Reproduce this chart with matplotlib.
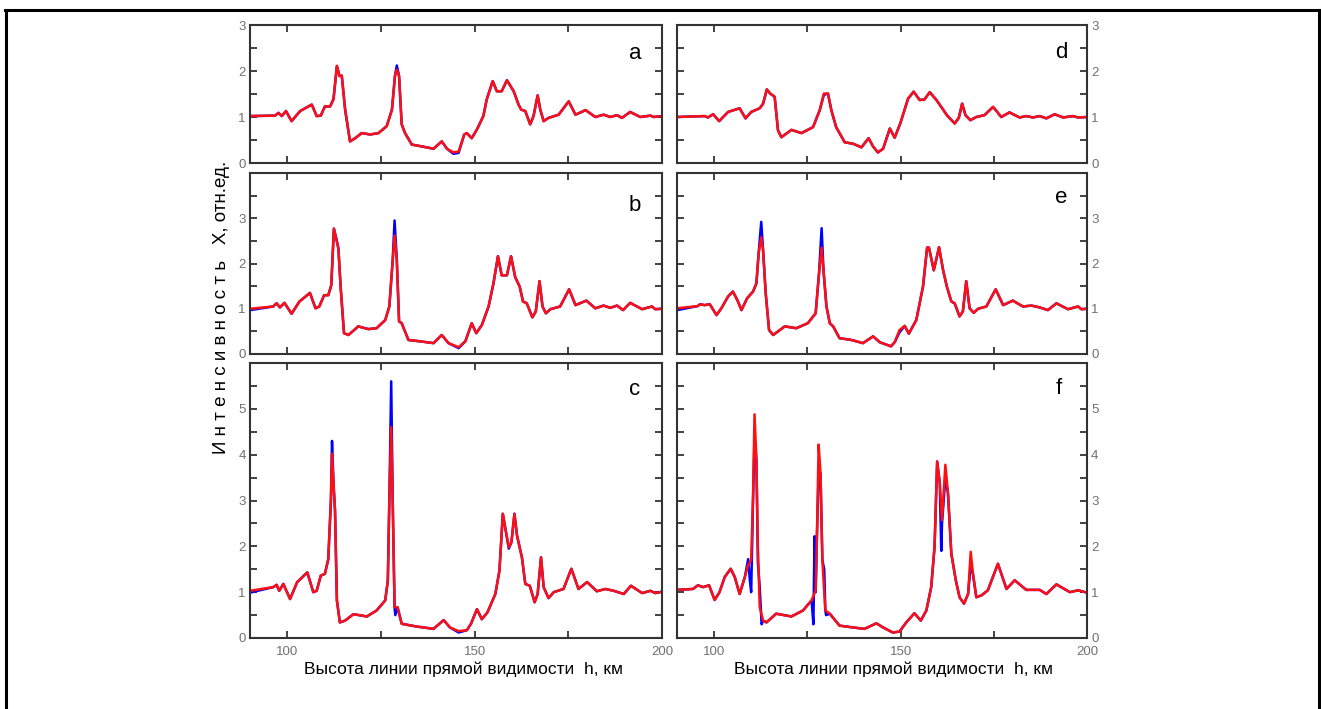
import matplotlib
matplotlib.use("Agg")
import matplotlib.pyplot as plt
from matplotlib.lines import Line2D
from matplotlib.ticker import MultipleLocator, FuncFormatter

plt.rcParams['font.family'] = ['Liberation Sans', 'DejaVu Sans']

# ---- data (red curve of every panel) ----
a_x = [90, 96.7, 97.6, 98.5, 99.6, 101.1, 103.4, 106.5, 107.8, 108.9, 110.0, 111.4, 112.3, 113.2,
       113.9, 114.5, 115.4, 116.7, 118.1, 119.8, 122.1, 124.3, 126.5, 127.9, 128.7, 129.2, 129.8,
       130.5, 131.4, 133.2, 135.9, 139.0, 141.2, 142.6, 144.3, 145.7, 147.2, 147.9, 149.2, 150.6,
       152.3, 153.2, 154.8, 155.9, 157.2, 158.6, 160.4, 161.7, 162.4, 163.5, 164.8, 165.7, 166.8,
       167.5, 168.4, 169.7, 172.4, 175.1, 176.9, 179.6, 182.2, 184.4, 186.2, 188.0, 189.3, 191.5,
       194.2, 196.9, 197.8, 200]
a_y = [1.02, 1.03, 1.09, 1.02, 1.13, 0.91, 1.13, 1.27, 1.02, 1.03, 1.23, 1.23, 1.39, 2.11,
       1.89, 1.90, 1.16, 0.47, 0.54, 0.65, 0.62, 0.65, 0.80, 1.16, 1.89, 2.03, 1.89,
       0.84, 0.65, 0.40, 0.36, 0.31, 0.47, 0.31, 0.23, 0.25, 0.62, 0.65, 0.54, 0.73,
       1.02, 1.38, 1.78, 1.56, 1.56, 1.80, 1.56, 1.27, 1.16, 1.13, 0.84, 1.02, 1.47,
       1.16, 0.91, 0.98, 1.05, 1.34, 1.05, 1.15, 1.00, 1.05, 1.00, 1.04, 0.98, 1.11,
       1.00, 1.03, 1.00, 1.02]

b_x = [90, 96.2, 97.1, 98.0, 99.2, 101.1, 103.2, 106.0, 107.5, 108.5, 109.8, 110.9, 111.7, 112.4,
       113.2, 113.6, 114.2, 115.1, 116.3, 118.9, 121.6, 123.8, 126.1, 127.2, 128.1, 128.6, 129.2,
       129.8, 130.5, 132.3, 135.4, 139.0, 141.2, 143.0, 145.7, 147.5, 149.2, 150.4, 151.9, 153.7,
       155.0, 156.2, 157.2, 158.6, 159.7, 160.8, 162.0, 162.9, 163.9, 165.4, 166.3, 167.3, 168.1,
       169.0, 170.2, 172.8, 175.2, 176.9, 179.8, 182.2, 184.4, 186.2, 188.0, 189.6, 191.5, 194.7,
       197.3, 198.2, 200]
b_y = [1.00, 1.05, 1.12, 1.03, 1.13, 0.89, 1.16, 1.35, 1.01, 1.05, 1.30, 1.30, 1.52, 2.77,
       2.47, 2.33, 1.48, 0.46, 0.42, 0.61, 0.55, 0.57, 0.75, 1.05, 2.07, 2.62, 2.07,
       0.72, 0.68, 0.31, 0.28, 0.24, 0.42, 0.24, 0.15, 0.28, 0.68, 0.46, 0.64, 1.05,
       1.56, 2.16, 1.74, 1.74, 2.16, 1.70, 1.49, 1.16, 1.12, 0.81, 0.94, 1.61, 1.05,
       0.90, 0.99, 1.05, 1.43, 1.08, 1.18, 1.01, 1.07, 1.02, 1.07, 0.97, 1.13, 0.99,
       1.05, 0.99, 1.00]

c_x = [90, 96.2, 97.1, 97.8, 98.9, 100.7, 102.6, 105.3, 106.9, 107.8, 108.9, 110.0, 110.9, 111.6,
       111.9, 112.3, 112.7, 113.2, 114.0, 115.4, 117.6, 121.2, 123.8, 126.1, 126.8, 127.2, 127.7,
       128.1, 128.6, 129.4, 130.5, 134.5, 139.0, 141.7, 143.4, 145.7, 147.9, 149.0, 150.6, 151.9,
       153.4, 155.5, 156.6, 157.5, 158.2, 159.1, 159.8, 160.6, 161.3, 162.6, 163.5, 164.7, 166.0,
       166.8, 167.7, 168.4, 169.7, 171.1, 173.7, 175.8, 177.7, 180.0, 182.6, 184.9, 187.1, 189.8,
       191.7, 194.7, 196.9, 198.2, 200]
c_y = [1.03, 1.11, 1.16, 1.03, 1.18, 0.85, 1.22, 1.43, 1.00, 1.03, 1.36, 1.40, 1.72, 3.00,
       4.02, 3.36, 2.78, 0.82, 0.34, 0.38, 0.52, 0.47, 0.60, 0.82, 1.25, 3.00, 4.60,
       3.00, 0.67, 0.67, 0.31, 0.25, 0.20, 0.39, 0.23, 0.15, 0.17, 0.31, 0.63, 0.41,
       0.56, 0.96, 1.47, 2.71, 2.38, 1.98, 2.09, 2.71, 2.23, 1.76, 1.18, 1.14, 0.78,
       0.96, 1.76, 1.11, 0.87, 1.00, 1.07, 1.51, 1.07, 1.22, 1.02, 1.07, 1.03, 0.96,
       1.14, 0.98, 1.03, 0.98, 1.01]

d_x = [90, 97.4, 98.3, 99.7, 101.3, 103.7, 106.8, 108.4, 109.9, 112.2, 113.1, 114.1, 115.0, 116.2,
       117.1, 118.0, 120.7, 123.4, 126.5, 128.3, 129.4, 130.5, 131.4, 132.7, 135.0, 137.2, 139.5,
       141.4, 142.6, 143.9, 145.3, 147.1, 148.4, 149.9, 152.0, 153.5, 155.1, 156.4, 157.8, 159.6,
       161.4, 162.4, 164.5, 165.6, 166.5, 167.4, 168.7, 170.3, 172.5, 174.8, 177.0, 179.2, 181.9,
       183.7, 185.5, 187.3, 189.1, 191.3, 193.6, 196.2, 197.6, 200]
d_y = [1.00, 1.02, 0.99, 1.06, 0.91, 1.11, 1.19, 0.97, 1.11, 1.19, 1.29, 1.60, 1.51, 1.44,
       0.71, 0.56, 0.72, 0.65, 0.78, 1.15, 1.51, 1.51, 1.15, 0.78, 0.45, 0.42, 0.34,
       0.54, 0.36, 0.23, 0.31, 0.75, 0.55, 0.86, 1.40, 1.55, 1.37, 1.38, 1.54, 1.37,
       1.16, 1.04, 0.86, 0.98, 1.29, 1.04, 0.93, 1.00, 1.04, 1.22, 1.00, 1.10, 0.99,
       1.02, 0.99, 1.02, 0.97, 1.06, 0.99, 1.02, 0.99, 1.00]

e_x = [90, 95.6, 96.2, 97.4, 98.8, 100.6, 101.9, 103.7, 105.0, 106.2, 107.3, 108.8, 110.4, 111.3,
       111.9, 112.6, 113.1, 113.8, 114.7, 115.8, 118.9, 122.0, 125.1, 127.2, 128.1, 128.8, 129.3,
       130.1, 131.0, 131.9, 133.6, 136.8, 139.9, 142.6, 144.4, 147.4, 148.4, 149.7, 151.1, 152.2,
       154.2, 156.0, 157.1, 157.6, 158.9, 160.3, 161.4, 162.4, 163.6, 164.5, 165.8, 166.7, 167.6,
       168.5, 169.6, 170.8, 173.0, 175.5, 177.5, 180.1, 182.8, 185.1, 187.3, 189.5, 191.8, 194.9,
       197.6, 198.5, 200]
e_y = [1.01, 1.06, 1.10, 1.08, 1.10, 0.86, 1.01, 1.27, 1.38, 1.19, 0.97, 1.23, 1.38, 1.56,
       2.22, 2.58, 2.29, 1.34, 0.53, 0.42, 0.61, 0.57, 0.68, 0.90, 1.78, 2.35, 1.85,
       1.05, 0.68, 0.61, 0.35, 0.31, 0.24, 0.39, 0.26, 0.17, 0.26, 0.53, 0.62, 0.45,
       0.75, 1.49, 2.35, 2.35, 1.85, 2.36, 1.85, 1.49, 1.16, 1.12, 0.83, 0.94, 1.61,
       1.01, 0.91, 1.00, 1.05, 1.43, 1.08, 1.18, 1.05, 1.07, 1.03, 0.97, 1.12, 0.99,
       1.05, 0.99, 1.00]

f_x = [90, 94.3, 95.6, 97.0, 98.6, 100.1, 101.4, 102.8, 104.4, 105.5, 106.8, 108.2, 109.1, 109.9,
       110.4, 110.8, 111.3, 111.7, 112.2, 113.1, 114.0, 116.6, 120.7, 123.8, 126.1, 127.2, 127.6,
       128.0, 128.5, 129.0, 129.8, 131.0, 133.6, 137.2, 140.3, 143.5, 145.3, 147.9, 149.7, 151.5,
       153.7, 155.4, 156.9, 158.2, 159.1, 159.8, 160.5, 161.1, 162.0, 162.7, 163.6, 164.8, 165.8,
       167.0, 168.1, 168.8, 169.4, 170.3, 171.7, 173.4, 176.1, 178.4, 180.6, 183.7, 187.3, 189.1,
       191.8, 195.4, 197.6, 200]
f_y = [1.05, 1.07, 1.15, 1.11, 1.15, 0.83, 1.00, 1.33, 1.51, 1.33, 0.96, 1.33, 1.59, 1.70,
       3.08, 4.88, 3.89, 1.99, 0.67, 0.38, 0.34, 0.53, 0.47, 0.60, 0.82, 1.04, 2.43,
       4.22, 3.60, 1.70, 0.60, 0.53, 0.27, 0.23, 0.20, 0.32, 0.23, 0.12, 0.14, 0.34,
       0.54, 0.38, 0.60, 1.11, 1.99, 3.85, 3.38, 2.57, 3.78, 3.16, 1.84, 1.26, 0.89,
       0.75, 0.96, 1.88, 1.40, 0.89, 0.93, 1.04, 1.62, 1.07, 1.26, 1.05, 1.05, 0.96,
       1.17, 1.00, 1.04, 0.99]

# blue curve = red curve except at these points
a_bx, a_by = [129.2, 144.3, 145.7], [2.12, 0.20, 0.22]
b_bx, b_by = [90, 128.6, 113.2, 145.7], [0.97, 2.95, 2.50, 0.13]
c_bx, c_by = [90, 111.9, 127.7, 128.8, 145.7, 159.1], [0.99, 4.30, 5.60, 0.50, 0.12, 1.95]
d_bx, d_by = [129.4], [1.48]
e_bx, e_by = [90, 112.6, 128.8, 149.7], [0.97, 2.92, 2.78, 0.48]
f_bx = [109.1, 109.5, 109.9, 110.4, 110.8, 111.7, 112.2, 112.7, 126.6, 126.9, 127.2, 128.0,
        129.5, 130.0, 160.9, 161.1, 162.0, 168.8]
f_by = [1.72, 1.30, 1.00, 3.00, 4.40, 1.65, 1.10, 0.30, 0.30, 2.22, 1.00, 3.60,
        1.50, 0.50, 1.90, 2.50, 3.50, 1.60]

panels = [
    ('a', a_x, a_y, a_bx, a_by, 3),
    ('b', b_x, b_y, b_bx, b_by, 4),
    ('c', c_x, c_y, c_bx, c_by, 6),
    ('d', d_x, d_y, d_bx, d_by, 3),
    ('e', e_x, e_y, e_bx, e_by, 4),
    ('f', f_x, f_y, f_bx, f_by, 6),
]


def merge(rx, ry, ox, oy):
    pts = dict(zip(rx, ry))
    pts.update(dict(zip(ox, oy)))
    xs = sorted(pts)
    return xs, [pts[k] for k in xs]


W, H = 1321, 709
fig = plt.figure(figsize=(W / 100, H / 100), dpi=100)

# pixel boxes (left, top, right, bottom)
cols = [(250, 662), (677, 1087)]
rows = [(25, 163), (173, 354), (363, 638)]
xlabel_cx = [464, 893]
letter_pos = {'a': (0.934, 0.797), 'b': (0.934, 0.823), 'c': (0.934, 0.902),
              'd': (0.937, 0.804), 'e': (0.937, 0.862), 'f': (0.932, 0.909)}

for i, (name, rx, ry, ox, oy, ymax) in enumerate(panels):
    ci, ri = i // 3, i % 3
    l, r = cols[ci]
    t, b = rows[ri]
    ax = fig.add_axes([l / W, (H - b) / H, (r - l) / W, (b - t) / H])
    bx, by = merge(rx, ry, ox, oy)
    ax.plot(bx, by, color='#0000ff', lw=1.8, solid_joinstyle='round')
    ax.plot(rx, ry, color='#ff1010', lw=1.8, solid_joinstyle='round')
    ax.set_xlim(90, 200)
    ax.set_ylim(0, ymax)
    ax.xaxis.set_major_locator(MultipleLocator(25))
    ax.yaxis.set_major_locator(MultipleLocator(0.5))
    ax.yaxis.set_major_formatter(FuncFormatter(
        lambda v, p, m=ymax: '%d' % v if (abs(v - round(v)) < 1e-6 and (v < m or m == 3)) else ''))
    ax.xaxis.set_major_formatter(FuncFormatter(
        lambda v, p: '%d' % v if int(round(v)) in (100, 150, 200) else ''))
    ax.tick_params(direction='in', length=5, width=1.2, color='#222222',
                   top=True, bottom=True, left=True, right=True,
                   labelsize=9.5, labelcolor='#707070', pad=3)
    ax.tick_params(axis='x', pad=6)
    if ci == 0:
        ax.tick_params(labelleft=True, labelright=False)
    else:
        ax.tick_params(labelleft=False, labelright=True)
    if ri != 2:
        ax.tick_params(labelbottom=False)
    else:
        ax.set_xlabel('Высота линии прямой видимости  h, км', fontsize=12.5)
        ax.xaxis.set_label_coords((xlabel_cx[ci] - l) / (r - l), -(669 - b) / (b - t), transform=ax.transAxes)
        ax.xaxis.label.set_va('center')
    for s in ax.spines.values():
        s.set_linewidth(1.5)
        s.set_color('#333333')
    lx, ly = letter_pos[name]
    ax.text(lx, ly, name, transform=ax.transAxes, fontsize=16, ha='center', va='center')

fig.text(221 / W, 1 - 307 / H, 'И н т е н с и в н о с т ь   X, отн.ед.', rotation=90,
         fontsize=13.5, ha='center', va='center')

# outer frame
for xs, ys in [([5.5, 5.5], [-10, 9.5]), ([5, 1318.5], [9.5, 9.5]), ([1318.5, 1318.5], [9.5, -10])]:
    fig.add_artist(Line2D([x / W for x in xs], [1 - y / H if y > 0 else 0 for y in ys],
                          color='black', lw=2.2))

fig.savefig('out.png', dpi=100)
